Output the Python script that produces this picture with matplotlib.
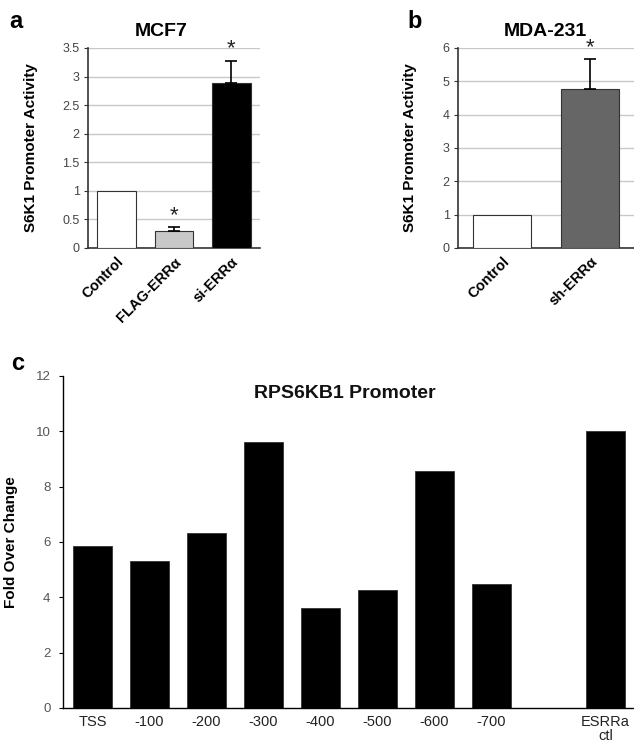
import matplotlib
matplotlib.use("Agg")
import matplotlib.pyplot as plt

plt.rcParams['font.family'] = ['Liberation Sans', 'DejaVu Sans']

# ---- data ----
mcf7_labels = ["Control", "FLAG-ERRα", "si-ERRα"]
mcf7_values = [1.0, 0.30, 2.88]
mcf7_err = [0.0, 0.06, 0.40]
mcf7_sig = [False, True, True]

mda_labels = ["Control", "sh-ERRα"]
mda_values = [1.0, 4.77]
mda_err = [0.0, 0.90]
mda_sig = [False, True]

c_labels = ["TSS", "-100", "-200", "-300", "-400", "-500", "-600", "-700", "", "ESRRa\nctl"]
c_values = [5.87, 5.32, 6.32, 9.60, 3.63, 4.28, 8.57, 4.49, None, 10.0]

a_yticks = [0, 0.5, 1, 1.5, 2, 2.5, 3, 3.5]
a_yticklabels = ["0", "0.5", "1", "1.5", "2", "2.5", "3", "3.5"]
b_yticks = [0, 1, 2, 3, 4, 5, 6]
c_yticks = [0, 2, 4, 6, 8, 10, 12]

W, H = 634, 745
fig = plt.figure(figsize=(W / 100, H / 100), dpi=100)


def fr(x0, y0, x1, y1):
    # pixel box -> figure fraction rect
    return [x0 / W, 1 - y1 / H, (x1 - x0) / W, (y1 - y0) / H]


tick_gray = '#444444'
grid_gray = '#c8c8c8'
spine_col = '#333333'


def style_small(ax, yticks, ylim, yticklabels=None):
    ax.set_ylim(*ylim)
    ax.set_yticks(yticks)
    if yticklabels is not None:
        ax.set_yticklabels(yticklabels)
    ax.yaxis.grid(True, color=grid_gray, linewidth=1.0)
    ax.set_axisbelow(True)
    for s in ['top', 'right']:
        ax.spines[s].set_visible(False)
    for s in ['left', 'bottom']:
        ax.spines[s].set_color(spine_col)
        ax.spines[s].set_linewidth(1.2)
    ax.tick_params(axis='y', direction='out', length=3, width=0.8, color=spine_col,
                   labelsize=9, labelcolor=tick_gray, pad=3)
    ax.tick_params(axis='x', length=0, pad=5)


def draw_errs(ax, xs, vals, errs, sig, star_off):
    ex = [x for x, e in zip(xs, errs) if e > 0]
    ev = [v for v, e in zip(vals, errs) if e > 0]
    ee = [e for e in errs if e > 0]
    ax.errorbar(ex, ev, yerr=[[0] * len(ee), ee], fmt='none', ecolor='black',
                elinewidth=1.2, capsize=4, capthick=1.2, zorder=4)
    for xi, v, e, s in zip(xs, vals, errs, sig):
        if s:
            ax.text(xi, v + e + star_off, "*", ha='center', va='bottom', fontsize=16,
                    color='#222222')


# ---- panel a ----
axa = fig.add_axes(fr(88, 48, 260, 248))
xa = list(range(len(mcf7_values)))
colors_a = ['white', '#c8c8c8', 'black']
axa.bar(xa, mcf7_values, width=0.67, color=colors_a, edgecolor='#333333', linewidth=0.8, zorder=3)
draw_errs(axa, xa, mcf7_values, mcf7_err, mcf7_sig, 0.02)
axa.set_xlim(-0.5, 2.5)
style_small(axa, a_yticks, (0, 3.5), a_yticklabels)
axa.set_xticks(xa)
axa.set_xticklabels(mcf7_labels, rotation=45, ha='right', rotation_mode='anchor',
                    fontsize=10.5, fontweight='bold')
axa.set_ylabel("S6K1 Promoter Activity", fontsize=11, fontweight='bold')
axa.yaxis.set_label_coords(-0.29, 0.5)

# ---- panel b ----
axb = fig.add_axes(fr(458, 48, 634, 248))
xb = list(range(len(mda_values)))
colors_b = ['white', '#666666']
axb.bar(xb, mda_values, width=0.655, color=colors_b, edgecolor='#333333', linewidth=0.8, zorder=3)
draw_errs(axb, xb, mda_values, mda_err, mda_sig, 0.03)
axb.set_xlim(-0.5, 1.5)
style_small(axb, b_yticks, (0, 6))
axb.set_xticks(xb)
axb.set_xticklabels(mda_labels, rotation=45, ha='right', rotation_mode='anchor',
                    fontsize=10.5, fontweight='bold')
axb.set_ylabel("S6K1 Promoter Activity", fontsize=11, fontweight='bold')
axb.yaxis.set_label_coords(-0.233, 0.5)

# ---- panel c ----
axc = fig.add_axes(fr(63, 376, 634, 708))
xc = [i for i, v in enumerate(c_values) if v is not None]
vc = [v for v in c_values if v is not None]
axc.bar(xc, vc, width=0.69, color='black', edgecolor='#333333', linewidth=0.6)
axc.set_xlim(-0.52, 9.5)
axc.set_ylim(0, 12)
axc.set_yticks(c_yticks)
axc.set_xticks(range(len(c_labels)))
axc.set_xticklabels(c_labels, fontsize=10.5, color='#222222', linespacing=1.0)
for s in ['top', 'right']:
    axc.spines[s].set_visible(False)
for s in ['left', 'bottom']:
    axc.spines[s].set_color('black')
    axc.spines[s].set_linewidth(1.0)
axc.tick_params(axis='y', direction='out', length=3, width=0.8, labelsize=9.5,
                labelcolor='#555555', pad=6)
axc.tick_params(axis='x', length=0, pad=5)
axc.set_ylabel("Fold Over Change", fontsize=11, fontweight='bold')
axc.yaxis.set_label_coords(-0.079, 0.5)
axc.text(0.494, 0.948, "RPS6KB1 Promoter", transform=axc.transAxes, ha='center', va='center',
         fontsize=14, fontweight='bold', color='#111111')

# ---- titles and panel letters ----
fig.text(161 / W, 1 - 31 / H, "MCF7", ha='center', va='center', fontsize=14, fontweight='bold')
fig.text(545 / W, 1 - 31 / H, "MDA-231", ha='center', va='center', fontsize=14, fontweight='bold')
fig.text(16 / W, 1 - 21 / H, "a", ha='center', va='center', fontsize=17, fontweight='bold')
fig.text(415 / W, 1 - 21 / H, "b", ha='center', va='center', fontsize=17, fontweight='bold')
fig.text(18 / W, 1 - 364 / H, "c", ha='center', va='center', fontsize=17, fontweight='bold')

fig.savefig("out.png", dpi=100)
